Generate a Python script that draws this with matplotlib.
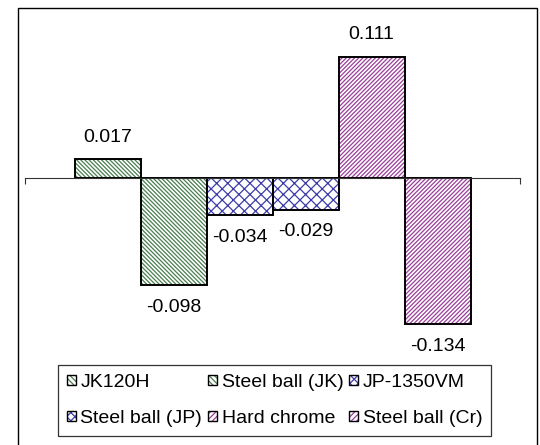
import matplotlib
matplotlib.use('Agg')

import matplotlib.pyplot as plt
from matplotlib.patches import Rectangle, Patch
from matplotlib.legend_handler import HandlerTuple

# data
labels = ["JK120H", "Steel ball (JK)", "JP-1350VM",
          "Steel ball (JP)", "Hard chrome", "Steel ball (Cr)"]
values = [0.017, -0.098, -0.034, -0.029, 0.111, -0.134]
value_text = ["0.017", "-0.098", "-0.034", "-0.029", "0.111", "-0.134"]

hatch_colors = ["#4a7d4f", "#4a7d4f", "#3c3ca8", "#3c3ca8", "#9a3e9a", "#9a3e9a"]
hatches = ["\\" * 8, "\\" * 8, "xxx", "xxx", "/" * 8, "/" * 8]
legend_hatches = ["\\" * 6, "\\" * 6, "xxxx", "xxxx", "/" * 6, "/" * 6]

plt.rcParams['font.family'] = ['Liberation Sans', 'DejaVu Sans']
plt.rcParams['font.size'] = 14
plt.rcParams['hatch.linewidth'] = 0.9

W, H = 540, 445
fig = plt.figure(figsize=(W / 100, H / 100), dpi=100)

# axes placed in pixel terms: x from 25 to 520, y from 20 to 360
ax = fig.add_axes([25 / W, (H - 360) / H, 495 / W, 340 / H])
ppu = 1090.0  # pixels per unit on y
ax.set_ylim(-(360 - 178) / ppu, (178 - 20) / ppu)
ax.set_xlim(-1.25, 6.25)

xs = list(range(len(values)))
# hatch layer then black outline
ax.bar(xs, values, width=1.0, color="white", edgecolor=hatch_colors,
       hatch=hatches, linewidth=0)
ax.bar(xs, values, width=1.0, fill=False, edgecolor="black", linewidth=1.4)

for x, v, t in zip(xs, values, value_text):
    off = 16 if v > 0 else -16
    ax.annotate(t, (x, v), xytext=(0, off), textcoords="offset points",
                ha="center", va="center")

for s in ["top", "left", "right"]:
    ax.spines[s].set_visible(False)
ax.spines["bottom"].set_position(("data", 0))
ax.spines["bottom"].set_color("#333333")
ax.spines["bottom"].set_linewidth(0.8)
ax.set_xticks([-1.25, 6.25])
ax.set_xticklabels(["", ""])
ax.tick_params(axis="x", direction="out", length=4, width=0.8, color="#333333")
ax.set_yticks([])

# legend: hatched square with a black outline on top
handles = []
for c, h in zip(hatch_colors, legend_hatches):
    fillp = Patch(facecolor="white", edgecolor=c, hatch=h, linewidth=0)
    edge = Patch(fill=False, edgecolor="black", linewidth=1.0)
    handles.append((fillp, edge))
order = [0, 3, 1, 4, 2, 5]
leg = fig.legend([handles[i] for i in order], [labels[i] for i in order],
                 ncol=3, loc="upper left", bbox_to_anchor=(58 / W, (H - 365) / H),
                 handler_map={tuple: HandlerTuple(ndivide=1, pad=0)},
                 frameon=True, fancybox=False,
                 handlelength=0.45, handleheight=0.45, handletextpad=0.25,
                 columnspacing=0.3, borderaxespad=0,
                 labelspacing=1.0, borderpad=0.45)
leg.get_frame().set_edgecolor("black")
leg.get_frame().set_linewidth(0.9)

# outer frame
fig.patches.append(Rectangle((18 / W, -0.01), (537 - 18) / W, (H - 8) / H + 0.01,
                             transform=fig.transFigure, fill=False,
                             edgecolor="black", linewidth=1.0))

fig.savefig("out.png", dpi=100)
